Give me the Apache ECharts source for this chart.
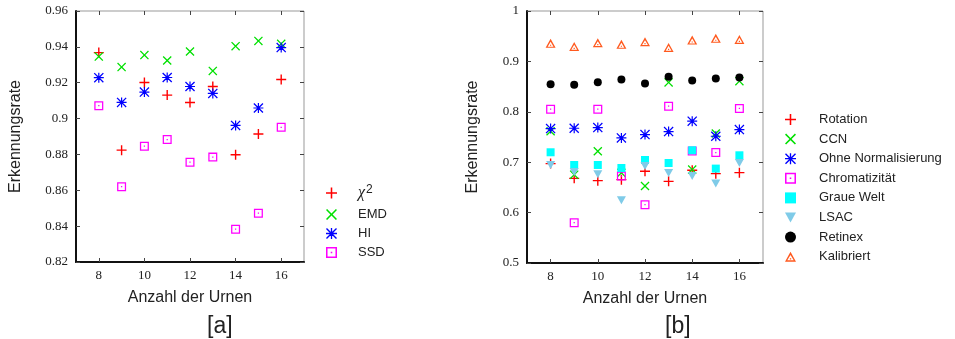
<!DOCTYPE html>
<html>
<head>
<meta charset="utf-8">
<script src="https://cdn.jsdelivr.net/npm/echarts@6/dist/echarts.min.js"></script>
<style>
  html, body { margin: 0; padding: 0; background: #fff; }
  #chart { width: 955px; height: 339px; }
</style>
</head>
<body>
<div id="chart"></div>
<script>
// Anzahl der Urnen
const urnen = [8, 9, 10, 11, 12, 13, 14, 15, 16];
const xTicks = [8, 10, 12, 14, 16];

// [a]
const chi2 = [0.9368, 0.8824, 0.9201, 0.9131, 0.909, 0.9179, 0.8798, 0.8914, 0.9218];
const emd = [0.9346, 0.9287, 0.9354, 0.9324, 0.9374, 0.9266, 0.9404, 0.9433, 0.9417];
const hi = [0.9228, 0.909, 0.9148, 0.9229, 0.9179, 0.914, 0.8962, 0.9059, 0.9396];
const ssd = [0.9072, 0.862, 0.8846, 0.8883, 0.8757, 0.8785, 0.8383, 0.8472, 0.8951];

// [b]
const rotation = [0.6972, 0.668, 0.6634, 0.6654, 0.6819, 0.662, 0.6839, 0.6773, 0.6793];
const ccn = [0.7614, 0.6753, 0.7217, 0.679, 0.6528, 0.8582, 0.6853, 0.7569, 0.8608];
const ohneNorm = [0.7667, 0.7674, 0.7687, 0.7481, 0.7548, 0.7608, 0.7813, 0.7515, 0.7648];
const chroma = [0.8052, 0.58, 0.8052, 0.6726, 0.6157, 0.8111, 0.7223, 0.7191, 0.8066];
const graueWelt = [0.7197, 0.6945, 0.6945, 0.6885, 0.7044, 0.6984, 0.7237, 0.6873, 0.7137];
const lsac = [0.6945, 0.6806, 0.676, 0.6243, 0.6925, 0.6786, 0.6726, 0.6575, 0.6984];
const retinex = [0.8549, 0.8535, 0.8588, 0.8642, 0.8562, 0.8695, 0.8622, 0.8662, 0.8682];
const kalibriert = [0.9358, 0.9298, 0.937, 0.9338, 0.939, 0.9278, 0.9423, 0.9457, 0.9437];

// gnuplot-like point shapes
const PLUS = 'path://M4.3,0H5.7V4.3H10V5.7H5.7V10H4.3V5.7H0V4.3H4.3Z';
const CROSS = 'path://M0,1L1,0L5,4L9,0L10,1L6,5L10,9L9,10L5,6L1,10L0,9L4,5Z';
const STAR = 'path://M4.4,0H5.6V4.4H10V5.6H5.6V10H4.4V5.6H0V4.4H4.4Z' +
  'M0,0.9L0.9,0L5,4.1L9.1,0L10,0.9L5.9,5L10,9.1L9.1,10L5,5.9L0.9,10L0,9.1L4.1,5Z';
const BOXDOT = 'path://M0,0H10V10H0ZM1.4,1.4V8.6H8.6V1.4ZM4.3,4.3H5.7V5.7H4.3Z';
const TRIDOT = 'path://M5,0L10,9L0,9ZM5,2.9L2.1,7.8H7.9ZM4.4,5.8H5.6V7H4.4Z';
const TRIDOWN = 'path://M0,0H10L5,9Z';

const pts = vals => urnen.map((u, i) => [u, vals[i]]);

function scatter(name, vals, idx, symbol, size, color) {
  return {
    name: name, type: 'scatter',
    xAxisIndex: idx * 2, yAxisIndex: idx * 2,
    data: pts(vals),
    symbol: symbol, symbolSize: size,
    itemStyle: { color: color, opacity: 1 },
    emphasis: { disabled: true },
    z: 3
  };
}

const tickFont = { fontFamily: 'Liberation Serif', fontSize: 13, color: '#222' };
const titleFont = { fontFamily: 'Liberation Sans', fontSize: 16, color: '#222' };

function axesFor(gi, yMin, yMax, yInt, yGap) {
  const xs = [
    {
      type: 'value', gridIndex: gi, min: 7, max: 17,
      name: 'Anzahl der Urnen', nameLocation: 'middle', nameGap: 28,
      nameTextStyle: titleFont,
      axisLine: { lineStyle: { color: '#111', width: 2 } },
      axisTick: { inside: true, length: 4, lineStyle: { color: '#444' }, customValues: xTicks },
      axisLabel: Object.assign({ margin: 7, customValues: xTicks }, tickFont),
      splitLine: { show: false }
    },
    {
      type: 'value', gridIndex: gi, min: 7, max: 17, position: 'top',
      axisLine: { show: false },
      axisTick: { inside: true, length: 4, lineStyle: { color: '#444' }, customValues: xTicks },
      axisLabel: { show: false },
      splitLine: { show: false }
    }
  ];
  const ys = [
    {
      type: 'value', gridIndex: gi, min: yMin, max: yMax, interval: yInt,
      name: 'Erkennungsrate', nameLocation: 'middle', nameGap: yGap,
      nameTextStyle: titleFont,
      axisLine: { show: true, lineStyle: { color: '#111', width: 2 } },
      axisTick: { show: true, inside: true, length: 4, lineStyle: { color: '#444' } },
      axisLabel: Object.assign({ margin: 8, formatter: v => String(+v.toFixed(2)) }, tickFont),
      splitLine: { show: false }
    },
    {
      type: 'value', gridIndex: gi, min: yMin, max: yMax, interval: yInt, position: 'right',
      axisLine: { show: false },
      axisTick: { show: true, inside: true, length: 4, lineStyle: { color: '#444' } },
      axisLabel: { show: false },
      splitLine: { show: false }
    }
  ];
  return { xs: xs, ys: ys };
}

const a = axesFor(0, 0.82, 0.96, 0.02, 52);
const b = axesFor(1, 0.5, 1, 0.1, 46);

const leftNames = ['χ2', 'EMD', 'HI', 'SSD'];
const rightNames = ['Rotation', 'CCN', 'Ohne Normalisierung', 'Chromatizität',
  'Graue Welt', 'LSAC', 'Retinex', 'Kalibriert'];

function legendText(padLeft) {
  return {
    fontFamily: 'Liberation Sans', fontSize: 13, lineHeight: 13, color: '#222', padding: [0, 0, 0, padLeft],
    rich: {
      chi: { fontFamily: 'Liberation Serif', fontStyle: 'italic', fontSize: 16, lineHeight: 13, color: '#222' },
      sup: { fontFamily: 'Liberation Sans', fontSize: 12, lineHeight: 13, color: '#222', padding: [0, 0, 6, 1] }
    }
  };
}

const chart = echarts.init(document.getElementById('chart'), null, { renderer: 'canvas' });
chart.setOption({
  animation: false,
  backgroundColor: '#fff',
  title: [
    { text: '[a]', left: 202, top: 310, textStyle: { fontFamily: 'Liberation Sans', fontSize: 23, fontWeight: 'normal', color: '#222' } },
    { text: '[b]', left: 660, top: 310, textStyle: { fontFamily: 'Liberation Sans', fontSize: 23, fontWeight: 'normal', color: '#222' } }
  ],
  grid: [
    { left: 76, top: 11, width: 228, height: 251, show: true, borderColor: '#999', borderWidth: 1, backgroundColor: 'transparent' },
    { left: 527, top: 11, width: 236, height: 252, show: true, borderColor: '#999', borderWidth: 1, backgroundColor: 'transparent' }
  ],
  xAxis: a.xs.concat(b.xs),
  yAxis: a.ys.concat(b.ys),
  legend: [
    {
      data: leftNames, orient: 'vertical', left: 321, top: 179,
      itemWidth: 11, itemHeight: 11, itemGap: 6, selectedMode: false,
      textStyle: legendText(16),
      formatter: n => n === 'χ2' ? '{chi|χ}{sup|2}' : n
    },
    {
      data: rightNames, orient: 'vertical', left: 780, top: 108,
      itemWidth: 11, itemHeight: 11, itemGap: 6.6, selectedMode: false,
      textStyle: legendText(18)
    }
  ],
  series: [
    scatter('χ2', chi2, 0, PLUS, 10, '#ff0000'),
    scatter('EMD', emd, 0, CROSS, 9, '#00e000'),
    scatter('HI', hi, 0, STAR, 10, '#0000ff'),
    scatter('SSD', ssd, 0, BOXDOT, 9, '#ff00ff'),

    scatter('Rotation', rotation, 1, PLUS, 10, '#ff0000'),
    scatter('CCN', ccn, 1, CROSS, 9, '#00e000'),
    scatter('Ohne Normalisierung', ohneNorm, 1, STAR, 10, '#0000ff'),
    scatter('Chromatizität', chroma, 1, BOXDOT, 9, '#ff00ff'),
    scatter('Graue Welt', graueWelt, 1, 'rect', 8, '#00ffff'),
    scatter('LSAC', lsac, 1, TRIDOWN, [9, 8], '#7fcbe8'),
    scatter('Retinex', retinex, 1, 'circle', 8, '#000000'),
    scatter('Kalibriert', kalibriert, 1, TRIDOT, [10, 9], '#ff5a1f')
  ]
});
</script>
</body>
</html>
